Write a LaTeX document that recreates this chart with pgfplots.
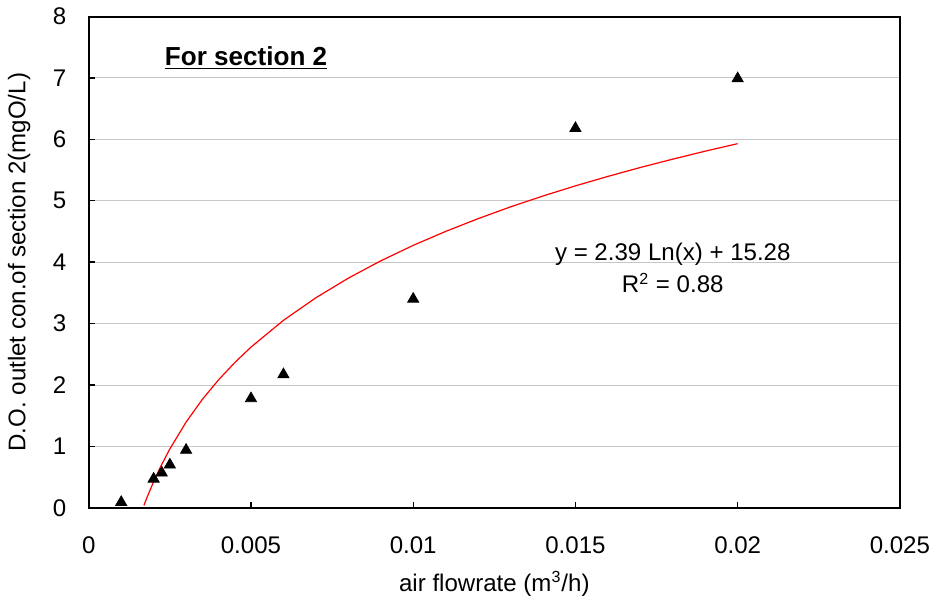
\documentclass[border=0pt]{standalone}
\usepackage{fontspec}
\setmainfont{Liberation Sans}
\usepackage{pgfplots}
\pgfplotsset{compat=1.18}
\begin{document}
\fontsize{12}{14}\selectfont
\begin{tikzpicture}
\begin{axis}[
  scale only axis,
  width=404.5pt, height=245pt,
  xmin=0, xmax=0.025, ymin=0, ymax=8,
  xtick={0,0.005,0.01,0.015,0.02,0.025},
  xticklabels={0,0.005,0.01,0.015,0.02,0.025},
  ytick={0,1,...,8},
  scaled x ticks=false,
  /pgf/number format/assume math mode=true,
  tick align=inside,
  tick pos=left,
  major tick length=3pt,
  tick style={black, line width=0.7pt},
  axis line style={black, line width=1pt},
  ymajorgrids,
  grid style={gray!45, line width=0.5pt},
  xticklabel style={yshift=-10pt, inner xsep=0pt},
  yticklabel style={xshift=-7pt},
  xlabel={air flowrate (m\textsuperscript{3}/h)},
  ylabel={D.O. outlet con.of section 2(mgO/L)},
  xlabel style={yshift=-1pt},
  ylabel style={yshift=3pt},
  clip=false,
]
\addplot[red, line width=0.6pt] coordinates {
(0.0017,0.04) (0.0018,0.175) (0.002,0.427) (0.0022,0.655) (0.0025,0.960)
(0.003,1.396) (0.0035,1.765) (0.004,2.084) (0.0045,2.365) (0.005,2.617)
(0.006,3.053) (0.007,3.421) (0.008,3.740) (0.009,4.022) (0.010,4.274)
(0.011,4.501) (0.012,4.709) (0.013,4.901) (0.014,5.078) (0.015,5.243)
(0.016,5.397) (0.017,5.542) (0.018,5.678) (0.019,5.808) (0.020,5.930)
};
\addplot[only marks, mark=triangle*, mark size=3.2pt, black] coordinates {
(0.001,0.09) (0.002,0.47) (0.00225,0.57) (0.0025,0.70) (0.003,0.94)
(0.005,1.78) (0.006,2.17) (0.01,3.40) (0.015,6.18) (0.02,6.99)
};
\node[font=\fontsize{13}{15}\selectfont\bfseries] at (axis cs:0.00485,7.33) {\underline{For section 2}};
\node[align=center] at (axis cs:0.018,3.9) {y = 2.39 Ln(x) + 15.28\\[2pt] R\textsuperscript{2} = 0.88};
\end{axis}
\end{tikzpicture}
\end{document}
